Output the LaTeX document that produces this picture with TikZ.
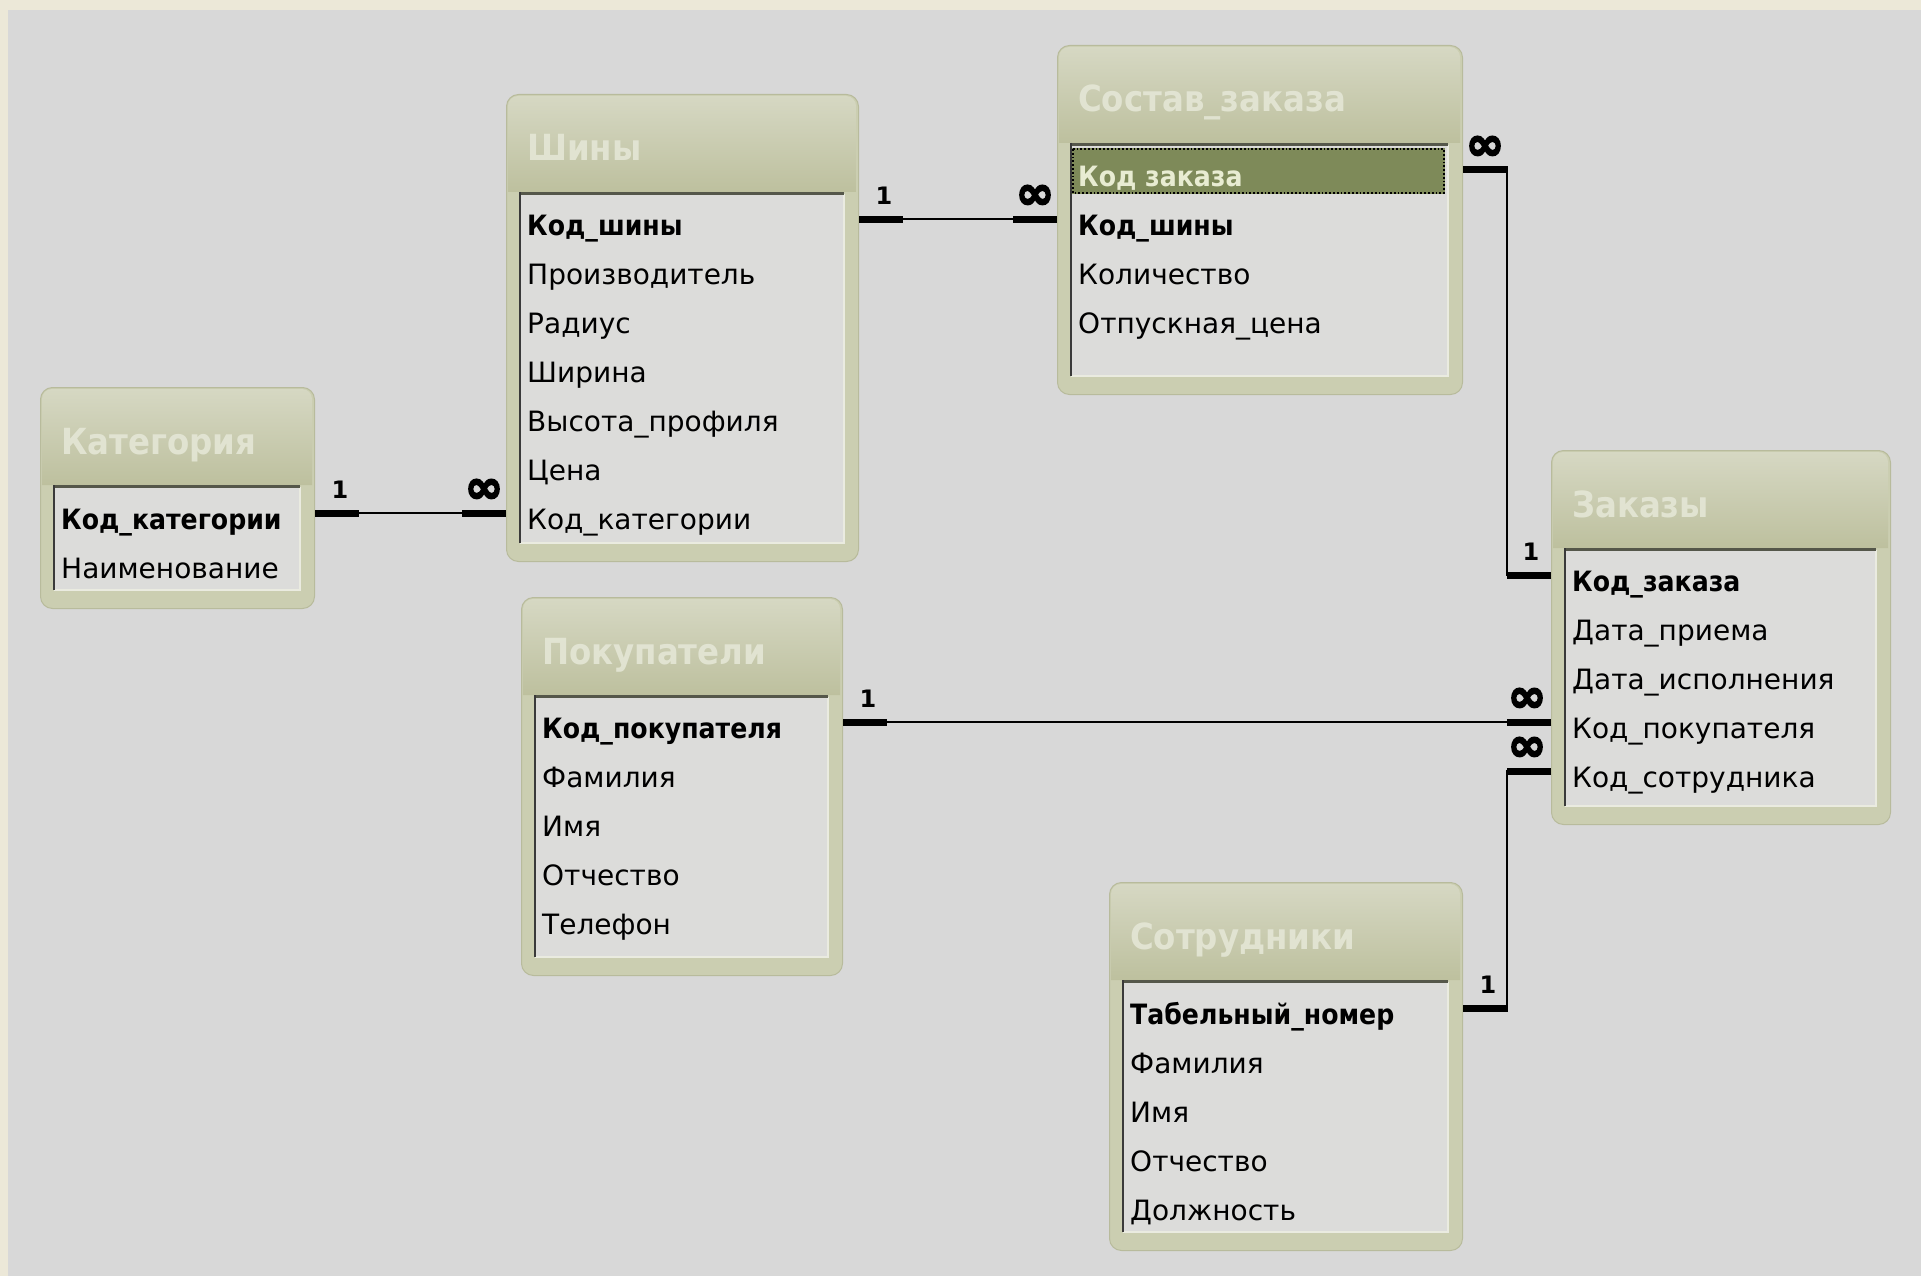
\documentclass[tikz,border=0pt]{standalone}
\usepackage{fontspec}
\setmainfont{DejaVu Sans}
\newfontfamily\condfont{DejaVu Sans Condensed}
\newfontfamily\inffont{DejaVu Sans}[FakeBold=4]
\usetikzlibrary{calc}
\definecolor{beige}{HTML}{ECE8D8}
\definecolor{bgpanel}{HTML}{D8D8D8}
\definecolor{framecol}{HTML}{CBCEB1}
\definecolor{frameedge}{HTML}{B8BB9C}
\definecolor{headtop}{HTML}{D6D8C3}
\definecolor{headbot}{HTML}{BDC09E}
\definecolor{listbg}{HTML}{DCDCDA}
\definecolor{innertop}{HTML}{55574A}
\definecolor{innerleft}{HTML}{3A3A3A}
\definecolor{titletxt}{HTML}{E6E8D8}
\definecolor{hilite}{HTML}{7E8A59}
\definecolor{hilitetxt}{HTML}{E8ECD2}
\tikzset{
  tframe/.style={draw=frameedge, line width=1pt, fill=framecol, rounded corners=12pt, inner sep=0pt},
  ttitle/.style={anchor=west, inner sep=0pt, text=titletxt, text opacity=0.85, font=\condfont\bfseries\fontsize{36}{36}\selectfont, text height=33pt, text depth=7pt},
  field/.style={anchor=west, inner sep=0pt, text=black, font=\fontsize{28}{28}\selectfont, text height=26pt, text depth=6pt},
  keyfield/.style={field, font=\condfont\bfseries\fontsize{28}{28}\selectfont},
  rel/.style={line width=2.5pt, black, line join=miter},
  stub/.style={line width=7pt, black},
  card/.style={inner sep=0pt, font=\bfseries\fontsize{24}{24}\selectfont},
  many/.style={inner sep=0pt, font=\inffont\bfseries\fontsize{46}{46}\selectfont},
}
\newcommand\dbframe[6]{%
  \node[tframe, anchor=north west, minimum width={#4-#2}, minimum height={#5-#3}] (#1) at (#2,#3) {};
  \shade[top color=headtop, bottom color=headbot] (#2+2,#3+98) [rounded corners=10pt] -- (#2+2,#3+2) -- (#4-2,#3+2) [sharp corners] -- (#4-2,#3+98) -- cycle;
  \fill[listbg] (#2+13,#3+98) rectangle (#4-14,#6);
  \draw[line width=1.5pt, white!60!framecol] (#4-14,#3+100) -- (#4-14,#6) -- (#2+14,#6);
  \draw[line width=3pt, innertop] (#2+13,#3+99.5) -- (#4-14,#3+99.5);
  \draw[line width=2pt, innerleft] (#2+14,#3+98) -- (#2+14,#6);
}
\begin{document}
\begin{tikzpicture}[x=1pt,y=-1pt]
\useasboundingbox (0,0) rectangle (1921,1276);
\fill[beige] (0,0) rectangle (1921,1276);
\fill[bgpanel] (8,10) rectangle (1921,1276);

% Категория
\dbframe{kat}{40}{387}{314}{608}{590}
\node[ttitle] (kat-title) at (61,441) {Категория};
\node[keyfield] (kat-f1) at (61,519) {Код\_категории};
\node[field] (kat-f2) at (61,568) {Наименование};

% Шины
\dbframe{shiny}{506}{94}{858}{561}{543}
\node[ttitle] (shiny-title) at (527,148) {Шины};
\node[keyfield] (shiny-f1) at (527,225) {Код\_шины};
\node[field] (shiny-f2) at (527,274) {Производитель};
\node[field] (shiny-f3) at (527,323) {Радиус};
\node[field] (shiny-f4) at (527,372) {Ширина};
\node[field] (shiny-f5) at (527,421) {Высота\_профиля};
\node[field] (shiny-f6) at (527,470) {Цена};
\node[field] (shiny-f7) at (527,519) {Код\_категории};

% Состав_заказа
\dbframe{sostav}{1057}{45}{1462}{394}{376}
\node[ttitle] (sostav-title) at (1078,99) {Состав\_заказа};
\fill[hilite] (1072,148) rectangle (1445,194);
\draw[black, line width=1.8pt, dotted] (1073,149) rectangle (1444,193);
\node[keyfield, text=hilitetxt] (sostav-f1) at (1078,176) {Код заказа};
\node[keyfield] (sostav-f2) at (1078,225) {Код\_шины};
\node[field] (sostav-f3) at (1078,274) {Количество};
\node[field] (sostav-f4) at (1078,323) {Отпускная\_цена};

% Заказы
\dbframe{zakazy}{1551}{450}{1890}{824}{806}
\node[ttitle] (zakazy-title) at (1572,504) {Заказы};
\node[keyfield] (zakazy-f1) at (1572,581) {Код\_заказа};
\node[field] (zakazy-f2) at (1572,630) {Дата\_приема};
\node[field] (zakazy-f3) at (1572,679) {Дата\_исполнения};
\node[field] (zakazy-f4) at (1572,728) {Код\_покупателя};
\node[field] (zakazy-f5) at (1572,777) {Код\_сотрудника};

% Покупатели
\dbframe{pokup}{521}{597}{842}{975}{957}
\node[ttitle] (pokup-title) at (542,651) {Покупатели};
\node[keyfield] (pokup-f1) at (542,728) {Код\_покупателя};
\node[field] (pokup-f2) at (542,777) {Фамилия};
\node[field] (pokup-f3) at (542,826) {Имя};
\node[field] (pokup-f4) at (542,875) {Отчество};
\node[field] (pokup-f5) at (542,924) {Телефон};

% Сотрудники
\dbframe{sotr}{1109}{882}{1462}{1250}{1232}
\node[ttitle] (sotr-title) at (1130,936) {Сотрудники};
\node[keyfield] (sotr-f1) at (1130,1014) {Табельный\_номер};
\node[field] (sotr-f2) at (1130,1063) {Фамилия};
\node[field] (sotr-f3) at (1130,1112) {Имя};
\node[field] (sotr-f4) at (1130,1161) {Отчество};
\node[field] (sotr-f5) at (1130,1210) {Должность};

% connector endpoints
\coordinate (c1a) at ($(kat.east |- kat-f1.west)+(0,-6)$);
\coordinate (c1b) at ($(shiny.west |- shiny-f7.west)+(0,-6)$);
\coordinate (c2a) at ($(shiny.east |- shiny-f1.west)+(0,-6)$);
\coordinate (c2b) at ($(sostav.west |- sostav-f2.west)+(0,-6)$);
\coordinate (c3a) at ($(sostav.east |- sostav-f1.west)+(0,-6)$);
\coordinate (c3b) at ($(zakazy.west |- zakazy-f1.west)+(0,-6)$);
\coordinate (c4a) at ($(pokup.east |- pokup-f1.west)+(0,-6)$);
\coordinate (c4b) at ($(zakazy.west |- zakazy-f4.west)+(0,-6)$);
\coordinate (c5a) at ($(sotr.east |- sotr-f1.west)+(0,-6)$);
\coordinate (c5b) at ($(zakazy.west |- zakazy-f5.west)+(0,-6)$);

% Категория -- Шины
\draw[rel] (c1a) -- (c1b);
\draw[stub] (c1a) -- ++(44,0);
\draw[stub] (c1b) -- ++(-44,0);
\node[card] at ($(c1a)+(25,-23)$) {1};
\node[many] at ($(c1b)+(-22,-22)$) {∞};

% Шины -- Состав_заказа
\draw[rel] (c2a) -- (c2b);
\draw[stub] (c2a) -- ++(44,0);
\draw[stub] (c2b) -- ++(-44,0);
\node[card] at ($(c2a)+(25,-23)$) {1};
\node[many] at ($(c2b)+(-22,-22)$) {∞};

% Состав_заказа -- Заказы
\draw[rel] (c3a) -| ($(c3b)+(-44,0)$) -- (c3b);
\draw[stub] (c3a) -- ++(45,0);
\draw[stub] (c3b) -- ++(-44,0);
\node[many] at ($(c3a)+(22,-22)$) {∞};
\node[card] at ($(c3b)+(-20,-23)$) {1};

% Покупатели -- Заказы
\draw[rel] (c4a) -- (c4b);
\draw[stub] (c4a) -- ++(44,0);
\draw[stub] (c4b) -- ++(-44,0);
\node[card] at ($(c4a)+(25,-23)$) {1};
\node[many] at ($(c4b)+(-24,-22)$) {∞};

% Сотрудники -- Заказы
\draw[rel] (c5a) -| ($(c5b)+(-44,0)$) -- (c5b);
\draw[stub] (c5a) -- ++(45,0);
\draw[stub] (c5b) -- ++(-44,0);
\node[card] at ($(c5a)+(25,-23)$) {1};
\node[many] at ($(c5b)+(-24,-22)$) {∞};
\end{tikzpicture}
\end{document}
